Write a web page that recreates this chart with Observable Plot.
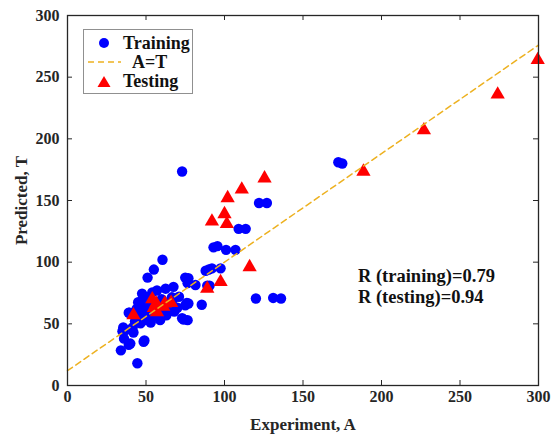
<!DOCTYPE html>
<html>
<head>
<meta charset="utf-8">
<script src="https://cdn.jsdelivr.net/npm/d3@7"></script>
<script src="https://cdn.jsdelivr.net/npm/@observablehq/plot@0.6"></script>
<style>
  body { margin: 0; background: #fff; }
  #wrap { position: relative; width: 558px; height: 437px; font-family: "Liberation Serif", "Times New Roman", serif; font-weight: bold; }
  #legend { position: absolute; left: 83px; top: 29px; width: 110px; height: 65px; border: 1px solid #909090; background: #fff; box-sizing: border-box; }
  #legend .t { position: absolute; font-size: 18px; color: #111; line-height: 18px; }
</style>
</head>
<body>
<div id="wrap">
  <div id="chart"></div>
  <div id="legend">
    <svg width="108" height="63" style="position:absolute;left:0;top:0">
      <circle cx="20" cy="13" r="5" fill="#0000ff"></circle>
      <line x1="4" x2="37" y1="32" y2="32" stroke="#EDB120" stroke-width="1.5" stroke-dasharray="6,4"></line>
      <path d="M20,46 L26.5,57 L13.5,57 Z" fill="#ff0000"></path>
    </svg>
    <div class="t" style="left:39px;top:4px">Training</div>
    <div class="t" style="left:48px;top:23px">A=T</div>
    <div class="t" style="left:39px;top:42px">Testing</div>
  </div>
</div>
<script>
const trainX = [73,172.5,175,122,127,109,113.5,93,95.5,101,107,88,90,92,97.5,77,76.5,81.5,89,90.5,77,85.5,120,131,136,
  60.5,55,51,47.5,54,62.5,67.5,75,66.5,67.5,75,76,45,48.5,39,39.5,44,50,47,52,57,60,62,65.5,70,63,73,76.5,74,59,53,46.5,37,42,41.5,35.5,35,36,49,48.5,39,40,34,44.5,55,58,68,43,45,50,56,60,48,52,64,71,57,42];
const trainY = [173.5,181,180,148,148,127,127,112,113,110,110,93,94,95,95,87,83,81.5,81,81,66.5,65.5,70.5,71,70.5,
  102,94,87.5,74.5,75.5,78.5,80,87.5,71.5,70.5,65,67,67.5,65,59,59,62,57,60,63,64,62,60,62.5,63,57,54.5,53,53.5,53,51,50.5,45,43,47,47,44,38,36.5,35.5,33,34,28.5,18,56,58,60,52,55,53,67,70,70,72,66,72,77,58];
const testX = [42,54,56.5,55,57,62,66,61,89,97.5,116,92,100,101.5,102,111,125.5,188.5,227,274,299.5];
const testY = [57,70,66.5,63,59.5,66.5,67,64,78.5,84,96,133,139,131,152,159,168,173.5,207,236,264];
const lineX = [0, 300];
const lineY = [12, 276];
const xTicks = [0,50,100,150,200,250,300];
const yTicks = [0,50,100,150,200,250,300];
const statLabels = ["R (training)=0.79", "R (testing)=0.94"];
const statX = [185, 185];
const statY = [89, 72];

const train = trainX.map((x,i)=>({x, y: trainY[i]}));
const test = testX.map((x,i)=>({x, y: testY[i]}));
const line = lineX.map((x,i)=>({x, y: lineY[i]}));
const stats = statLabels.map((t,i)=>({t, x: statX[i], y: statY[i]}));

const font = '"Liberation Serif", "Times New Roman", serif';
const ink = "#262626";

const chart = Plot.plot({
  width: 558,
  height: 437,
  marginLeft: 67,
  marginRight: 20,
  marginTop: 15,
  marginBottom: 52,
  style: {fontFamily: font, fontWeight: "bold", fontSize: "16px", color: ink, background: "white"},
  x: {domain: [0, 300]},
  y: {domain: [0, 300]},
  marks: [
    Plot.dot(train, {x: "x", y: "y", r: 5.2, fill: "#0000ff", stroke: "none"}),
    Plot.dot(test, {x: "x", y: "y", r: 5.3, symbol: "triangle", fill: "#ff0000", stroke: "none"}),
    Plot.line(line, {x: "x", y: "y", stroke: "#EDB120", strokeWidth: 1.5, strokeDasharray: "6,4"}),
    Plot.axisX(xTicks, {anchor: "bottom", tickSize: 0, tickPadding: 5, label: null, fontSize: 16, fontWeight: "bold", fill: ink}),
    Plot.axisY(yTicks, {anchor: "left", tickSize: 0, tickPadding: 8, label: null, fontSize: 16, fontWeight: "bold", fill: ink}),
    Plot.tickX(xTicks, {x: d => d, insetTop: 365, stroke: ink, strokeWidth: 1}),
    Plot.tickX(xTicks, {x: d => d, insetBottom: 365, stroke: ink, strokeWidth: 1}),
    Plot.tickY(yTicks, {y: d => d, insetLeft: 466, stroke: ink, strokeWidth: 1}),
    Plot.tickY(yTicks, {y: d => d, insetRight: 466, stroke: ink, strokeWidth: 1}),
    Plot.frame({stroke: ink, strokeWidth: 1.3}),
    Plot.text(stats, {x: "x", y: "y", text: "t", textAnchor: "start", fontSize: 18.5, fontWeight: "bold", fill: "#111"}),
    Plot.text(["Experiment, A"], {frameAnchor: "bottom", dy: 39, lineAnchor: "middle", textAnchor: "middle", fontSize: 17, fontWeight: "bold", fill: ink}),
    Plot.text(["Predicted, T"], {frameAnchor: "left", dx: -46, rotate: -90, textAnchor: "middle", lineAnchor: "middle", fontSize: 17, fontWeight: "bold", fill: ink})
  ]
});
document.getElementById("chart").appendChild(chart);
</script>
</body>
</html>
